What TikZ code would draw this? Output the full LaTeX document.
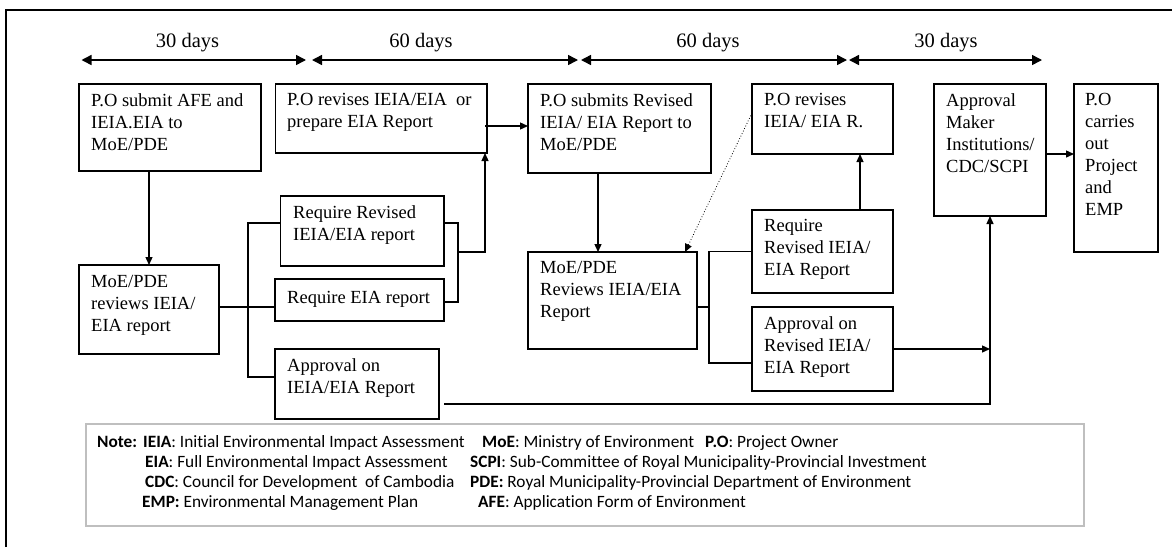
\documentclass[tikz,border=0pt]{standalone}
\usepackage{fontspec}
\setmainfont{Liberation Serif}
\newfontfamily\notefont[Ligatures=NoCommon]{Carlito}
\usetikzlibrary{arrows.meta}
\tikzset{
  box/.style={draw, line width=1.3pt, rectangle, inner sep=0pt, outer sep=0pt, anchor=north west},
  txt/.style={inner sep=0pt, align=left, anchor=north west, font=\fontsize{18.5}{22}\selectfont,
    execute at begin node={\rule{0pt}{14pt}}},
  lbl/.style={inner sep=0pt, anchor=center, font=\fontsize{20.5}{24}\selectfont},
  note/.style={inner sep=0pt, anchor=base west, font=\notefont\fontsize{17.3}{20}\selectfont},
  con/.style={line width=1.3pt},
  arr/.style={line width=1.3pt, -{Triangle[length=8pt,width=7pt]}},
  dur/.style={line width=1.5pt, {Triangle[length=10pt,width=10pt]}-{Triangle[length=10pt,width=10pt]}},
}
\begin{document}
\begin{tikzpicture}[x=1pt,y=-1pt]
\useasboundingbox (0,0) rectangle (1172,547);
% outer frame (only left and top edges are visible)
\coordinate (fl) at (5.7,547);
\coordinate (fc) at (5.7,10);
\coordinate (fr) at (1172,10);
\draw[line width=2pt] (fl) -- (fc) -- (fr);

% time line
\coordinate (p1) at (81.5,60);
\coordinate (p2) at (306,60);
\coordinate (p3) at (312,60);
\coordinate (p4) at (578,60);
\coordinate (p5) at (581,60);
\coordinate (p6) at (847,60);
\coordinate (p7) at (849,60);
\coordinate (p8) at (1042,60);
\draw[dur] (p1) -- (p2);
\draw[dur] (p3) -- (p4);
\draw[dur] (p5) -- (p6);
\draw[dur] (p7) -- (p8);
\node[lbl] (l1) at (187.5,43) {30 days};
\node[lbl] (l2) at (421,43) {60 days};
\node[lbl] (l3) at (708,43) {60 days};
\node[lbl] (l4) at (946,43) {30 days};

% boxes
\node[box, minimum width=182pt, minimum height=87pt] (b1) at (79,84) {};
\node[box, minimum width=211.5pt, minimum height=69pt] (b2) at (275.5,84) {};
\node[box, minimum width=183pt, minimum height=89pt] (b3) at (528,84) {};
\node[box, minimum width=141pt, minimum height=70pt] (b4) at (752,84) {};
\node[box, minimum width=112pt, minimum height=132pt] (b5) at (934,84) {};
\node[box, minimum width=84pt, minimum height=168pt] (b6) at (1074,84) {};
\node[box, minimum width=140pt, minimum height=89pt] (m1) at (79,265) {};
\node[box, minimum width=163.5pt, minimum height=70pt] (r1) at (280.5,196) {};
\node[box, minimum width=169pt, minimum height=42pt] (r2) at (275,279) {};
\node[box, minimum width=164pt, minimum height=70pt] (a1) at (275,349) {};
\node[box, minimum width=169pt, minimum height=97pt] (m2) at (528,252) {};
\node[box, minimum width=141pt, minimum height=83pt] (r3) at (752,210) {};
\node[box, minimum width=141pt, minimum height=84pt] (a2) at (752,307) {};

% box texts (position = first baseline minus 14)
\node[txt] (b1t) at (91,93) {P.O submit AFE and\\IEIA.EIA to\\MoE/PDE};
\node[txt] (b2t) at (287,93) {P.O revises IEIA/EIA~ or\\prepare EIA Report};
\node[txt] (b3t) at (540,93) {P.O submits Revised\\IEIA/ EIA Report to\\MoE/PDE};
\node[txt] (b4t) at (764,93) {P.O revises\\IEIA/ EIA R.};
\node[txt] (b5t) at (946,93) {Approval\\Maker\\Institutions/\\CDC/SCPI};
\node[txt] (b6t) at (1085,93) {P.O\\carries\\out\\Project\\and\\EMP};
\node[txt] (m1t) at (91,275) {MoE/PDE\\reviews IEIA/\\EIA report};
\node[txt] (r1t) at (293,205) {Require Revised\\IEIA/EIA report};
\node[txt] (r2t) at (287,289) {Require EIA report};
\node[txt] (a1t) at (287,358) {Approval on\\IEIA/EIA Report};
\node[txt] (m2t) at (540,261) {MoE/PDE\\Reviews IEIA/EIA\\Report};
\node[txt] (r3t) at (764,219) {Require\\Revised IEIA/\\EIA Report};
\node[txt] (a2t) at (764,316) {Approval on\\Revised IEIA/\\EIA Report};

% connectors
\draw[arr] (m1.north |- b1.south) -- (m1.north);
\coordinate (j1) at (248,307);
\draw[con] (m1.east |- j1) -- (r2.west |- j1);
\draw[con] ([yshift=8pt]r1.west) -| (j1) |- ([yshift=7pt]a1.west);
\coordinate (j2) at (458,252);
\draw[con] ([yshift=8pt]r1.east) -| (j2) |- ([yshift=-2pt]r2.east);
\draw[arr] (j2) -| ([xshift=-2pt]b2.south east);
\coordinate (j3) at (485,126);
\draw[arr] (j3) -- (b3.west |- j3);
\draw[arr] ([xshift=-14.5pt]m2.north |- b3.south) -- ([xshift=-14.5pt]m2.north);
\draw[line width=0.8pt, dotted, -{Triangle[length=8pt,width=7pt]}] ([yshift=6pt]b4.west) -- ([xshift=-12pt]m2.north east);
\coordinate (j4) at (709,307);
\draw[con] (m2.east |- j4) -- (j4);
\draw[con] (r3.west) -| (j4) |- ([yshift=-14pt]a2.west);
\draw[arr] ([xshift=37.5pt]r3.north) -- ([xshift=37.5pt]r3.north |- b4.south);
\draw[arr] (a2.east) -- (a2.east -| b5.south);
\draw[arr] ([shift={(5pt,-20pt)}]a1.east) -| (b5.south);
\draw[arr] ([yshift=-4pt]b5.east) -- ([yshift=-4pt]b5.east -| b6.west);

% legend
\node[draw=black!25, line width=1.5pt, rectangle, inner sep=0pt, anchor=north west, minimum width=998pt, minimum height=102pt] (leg) at (85,423) {};
\node[note] (n0) at (97,447) {\textbf{Note:}};
\node[note] (n1) at (143,447) {\textbf{IEIA}: Initial Environmental Impact Assessment};
\node[note] (n2) at (482,447) {\textbf{MoE}: Ministry of Environment};
\node[note] (n3) at (705,447) {\textbf{P.O}: Project Owner};
\node[note] (n4) at (145,467) {\textbf{EIA}: Full Environmental Impact Assessment};
\node[note] (n5) at (470,467) {\textbf{SCPI}: Sub-Committee of Royal Municipality-Provincial Investment};
\node[note] (n6) at (145,487) {\textbf{CDC}: Council for Development~ of Cambodia};
\node[note] (n7) at (470,487) {\textbf{PDE:} Royal Municipality-Provincial Department of Environment};
\node[note] (n8) at (142,507) {\textbf{EMP:} Environmental Management Plan};
\node[note] (n9) at (478,507) {\textbf{AFE}: Application Form of Environment};
\end{tikzpicture}
\end{document}
